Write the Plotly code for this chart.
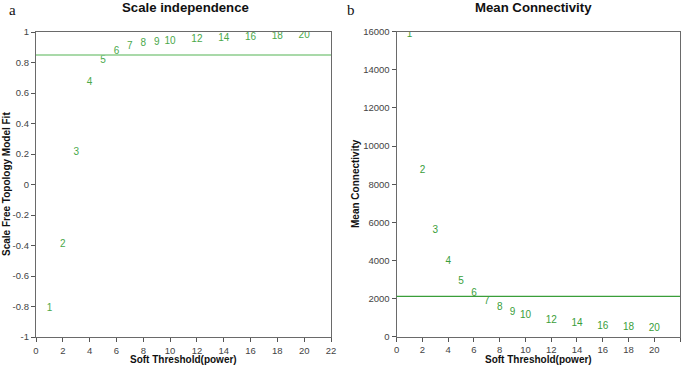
import plotly.graph_objects as go

powers = [1, 2, 3, 4, 5, 6, 7, 8, 9, 10, 12, 14, 16, 18, 20]
power_labels = [str(p) for p in powers]
sft_fit = [-0.814, -0.394, 0.213, 0.672, 0.814, 0.873, 0.908, 0.924, 0.934, 0.941,
           0.950, 0.956, 0.963, 0.970, 0.974]
mean_conn = [15860, 8730, 5580, 3920, 2920, 2280, 1840, 1510, 1280, 1090,
             840, 670, 560, 490, 420]
fit_cutoff = 0.85
conn_cutoff = 2120
x_ticks = list(range(0, 23, 2))
fit_ticks = [-1, -0.8, -0.6, -0.4, -0.2, 0, 0.2, 0.4, 0.6, 0.8, 1]
fit_tick_labels = ["-1", "-0.8", "-0.6", "-0.4", "-0.2", "0", "0.2", "0.4", "0.6", "0.8", "1"]
conn_ticks = list(range(0, 16001, 2000))
conn_tick_labels = [str(v) for v in conn_ticks]

W, H = 685, 365
FONT = "Liberation Sans, Arial, sans-serif"
GREEN_L = "#4aa84a"
GREEN_R = "#3a9e3a"

def px_x(p):
    return p / W

def px_y(p):
    return 1 - p / H

fig = go.Figure()
fig.add_trace(go.Scatter(x=powers, y=sft_fit, mode="text", text=power_labels,
                         textfont=dict(family=FONT, size=10, color=GREEN_L),
                         xaxis="x", yaxis="y", showlegend=False, hoverinfo="skip"))
fig.add_trace(go.Scatter(x=powers, y=mean_conn, mode="text", text=power_labels,
                         textfont=dict(family=FONT, size=10, color=GREEN_R),
                         xaxis="x2", yaxis="y2", showlegend=False, hoverinfo="skip"))

ax_common = dict(showgrid=False, zeroline=False, showline=True, linecolor="#6a6a6a",
                 linewidth=1.3, mirror=True, ticks="outside", ticklen=4, tickcolor="#555",
                 tickwidth=1, automargin=False,
                 tickfont=dict(family=FONT, size=9.5, color="#444"))

fig.update_layout(
    template="none",
    width=W, height=H, margin=dict(l=0, r=0, t=0, b=0, pad=0),
    plot_bgcolor="white", paper_bgcolor="white",
    xaxis=dict(domain=[px_x(36), px_x(331)], range=[0, 22], tickmode="array",
               tickvals=x_ticks, ticktext=[str(v) for v in x_ticks], anchor="y", **ax_common),
    yaxis=dict(domain=[px_y(337), px_y(32)], range=[-1, 1], tickmode="array",
               tickvals=fit_ticks, ticktext=fit_tick_labels, anchor="x", **ax_common),
    xaxis2=dict(domain=[px_x(396.7), px_x(680)], range=[0, 22], tickmode="array",
                tickvals=x_ticks, ticktext=[str(v) for v in x_ticks], anchor="y2", **ax_common),
    yaxis2=dict(domain=[px_y(336.7), px_y(31.7)], range=[0, 16000], tickmode="array",
                tickvals=conn_ticks, ticktext=conn_tick_labels, anchor="x2", **ax_common),
    shapes=[
        dict(type="line", xref="x domain", yref="y", x0=0, x1=1, y0=fit_cutoff, y1=fit_cutoff,
             line=dict(color="#8ccc8c", width=1.5)),
        dict(type="line", xref="x2 domain", yref="y2", x0=0, x1=1, y0=conn_cutoff, y1=conn_cutoff,
             line=dict(color="#3a9e3a", width=1.2)),
    ],
)

def label(text, x, y, size, family=FONT, weight="bold", angle=0):
    return dict(text=text, x=px_x(x), y=px_y(y), xref="paper", yref="paper",
                xanchor="center", yanchor="middle", showarrow=False, textangle=angle,
                font=dict(family=family, size=size, color="#111", weight=weight))

SERIF = "Liberation Serif, Times New Roman, serif"
ann = [
    label("Scale independence", 185.5, 7, 13.2),
    label("Mean Connectivity", 533.5, 7, 13.2),
    label("a", 12, 10, 15, family=SERIF, weight="normal"),
    label("b", 351, 10, 15, family=SERIF, weight="normal"),
    label("Soft Threshold(power)", 183.5, 359.5, 10),
    label("Soft Threshold(power)", 538.5, 359.5, 10),
    label("Scale Free Topology Model Fit", 6, 184, 10),
    label("Mean Connectivity", 355, 184, 10),
]
ann[6]["textangle"] = -90
ann[7]["textangle"] = -90
fig.update_layout(annotations=ann)

fig.write_html("out.html", config={"displayModeBar": False},
               post_script="document.body.style.margin='0';document.body.style.overflow='hidden';")
